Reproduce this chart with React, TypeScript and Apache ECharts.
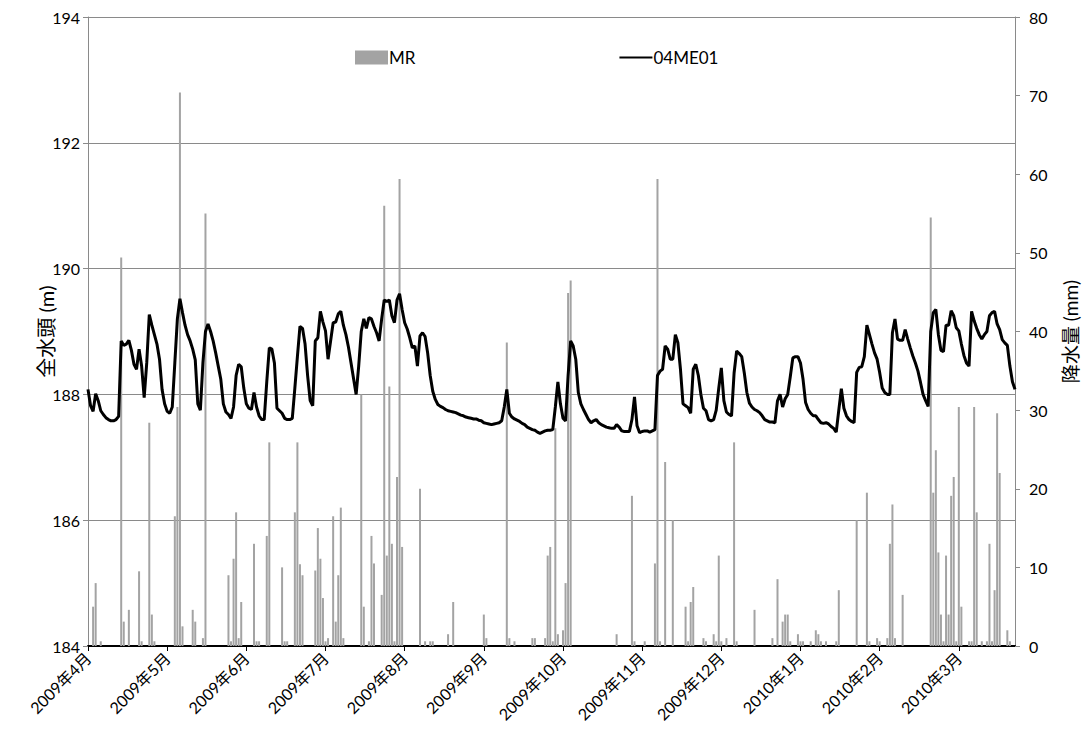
import React, { useEffect, useRef } from "react";
import * as echarts from "echarts";

// Daily record starting 2009-04-01
const startDate = [2009, 3, 1];
const dayCount = 364;
// month labels sit on every 31st daily category
const tickStep = 31;
const monthLabels = [
  "2009年4月", "2009年5月", "2009年6月", "2009年7月", "2009年8月", "2009年9月",
  "2009年10月", "2009年11月", "2009年12月", "2010年1月", "2010年2月", "2010年3月",
];

// 04ME01 total head (m), one value per day
const headValues = [
  188.08, 187.82, 187.73, 188.01, 187.9, 187.74, 187.68, 187.63, 187.6, 187.58,
  187.58, 187.6, 187.65, 188.85, 188.78, 188.8, 188.86, 188.7, 188.48, 188.4,
  188.72, 188.45, 187.95, 188.5, 189.27, 189.1, 188.95, 188.8, 188.56, 188.08,
  187.85, 187.73, 187.7, 187.8, 188.5, 189.2, 189.52, 189.3, 189.1, 188.95,
  188.85, 188.72, 188.55, 187.85, 187.75, 188.5, 189.0, 189.12, 189.0, 188.85,
  188.66, 188.45, 188.24, 187.85, 187.72, 187.68, 187.62, 187.8, 188.3, 188.48,
  188.44, 188.1, 187.85, 187.78, 187.76, 188.03, 187.8, 187.66, 187.6, 187.6,
  188.2, 188.74, 188.72, 188.5, 187.78, 187.74, 187.7, 187.62, 187.6, 187.6,
  187.62, 188.1, 188.6, 189.08, 189.05, 188.8, 188.3, 187.9, 187.82, 188.85,
  188.9, 189.32, 189.15, 189.01, 188.56, 188.85, 189.14, 189.15, 189.28, 189.32,
  189.1, 188.95, 188.75, 188.5, 188.25, 188.0, 188.45, 189.0, 189.2, 189.05,
  189.22, 189.2, 189.08, 188.98, 188.85, 189.2, 189.5, 189.48, 189.5, 189.25,
  189.14, 189.5, 189.6, 189.35, 189.14, 189.04, 188.9, 188.74, 188.77, 188.45,
  188.93, 188.98, 188.92, 188.66, 188.3, 188.05, 187.92, 187.84, 187.81, 187.79,
  187.76, 187.74, 187.73, 187.72, 187.71, 187.69, 187.67, 187.66, 187.64, 187.63,
  187.62, 187.61, 187.61, 187.59, 187.58, 187.55, 187.54, 187.53, 187.52, 187.53,
  187.54, 187.55, 187.58, 187.8, 188.08, 187.7, 187.64, 187.61, 187.59, 187.57,
  187.54, 187.52, 187.48, 187.46, 187.44, 187.43, 187.4, 187.38, 187.4, 187.42,
  187.43, 187.43, 187.44, 187.8, 188.2, 187.85, 187.62, 187.58, 188.3, 188.85,
  188.77, 188.56, 188.03, 187.85, 187.76, 187.68, 187.6, 187.55, 187.58, 187.6,
  187.55, 187.52, 187.5, 187.48, 187.47, 187.46, 187.46, 187.52, 187.48, 187.42,
  187.41, 187.41, 187.41, 187.6, 187.96, 187.5, 187.39, 187.41, 187.42, 187.42,
  187.4, 187.42, 187.44, 188.3, 188.37, 188.4, 188.77, 188.72, 188.56, 188.56,
  188.95, 188.82, 188.4, 187.85, 187.82, 187.79, 187.7, 188.4, 188.48, 188.3,
  188.0, 187.78, 187.74, 187.6, 187.58, 187.6, 187.75, 188.1, 188.42, 187.9,
  187.72, 187.68, 187.66, 188.34, 188.69, 188.65, 188.6, 188.34, 188.03, 187.86,
  187.8, 187.76, 187.74, 187.71, 187.66, 187.6, 187.58, 187.56, 187.56, 187.55,
  187.9, 188.0, 187.8, 187.93, 188.0, 188.28, 188.58, 188.6, 188.6, 188.5,
  188.24, 187.87, 187.76, 187.7, 187.66, 187.66, 187.6, 187.55, 187.54, 187.55,
  187.53, 187.49, 187.46, 187.4, 187.75, 188.09, 187.78, 187.66, 187.6, 187.57,
  187.55, 188.35, 188.43, 188.44, 188.6, 189.1, 188.95, 188.8, 188.66, 188.56,
  188.35, 188.1, 188.03, 188.0, 188.0, 188.98, 189.2, 188.88, 188.86, 188.86,
  189.03, 188.88, 188.74, 188.61, 188.5, 188.37, 188.19, 188.0, 187.9, 187.81,
  189.0, 189.3, 189.35, 188.95, 188.7, 188.68, 189.1, 189.1, 189.33, 189.25,
  189.06, 189.01, 188.8, 188.62, 188.5, 188.45, 189.32, 189.17, 189.05, 188.95,
  188.88, 188.95, 189.0, 189.25, 189.3, 189.32, 189.12, 189.03, 188.87, 188.82,
  188.78, 188.45, 188.2, 188.08,
];

// MR rainfall (mm): day offset from the start date and daily amount
const rainDays = [
  2, 3, 5, 13, 14, 16, 20, 21, 24, 25, 26, 34, 35, 36, 37, 41, 42, 45, 46,
  55, 56, 57, 58, 59, 60, 65, 66, 67, 70, 71, 76, 77, 78, 81, 82, 83, 84,
  89, 90, 91, 92, 93, 94, 96, 97, 98, 99, 100, 107, 108, 110, 111, 112,
  115, 116, 117, 118, 119, 120, 121, 122, 123, 130, 132, 134, 135, 141, 143,
  155, 156, 164, 165, 167, 174, 175, 179, 180, 181, 182, 183, 184, 186, 187,
  188, 189, 207, 213, 214, 218, 222, 223, 224, 226, 229, 234, 235, 236, 237,
  241, 242, 245, 246, 247, 248, 250, 253, 254, 261, 268, 270, 272, 273, 274,
  275, 278, 279, 280, 283, 285, 286, 287, 289, 293, 294, 301, 305, 306, 309,
  310, 313, 314, 315, 316, 319, 330, 331, 332, 333, 334, 335, 336, 337, 338,
  339, 340, 341, 342, 345, 346, 347, 348, 350, 352, 353, 354, 355, 356, 357,
  360, 361,
];
const rainValues = [
  5.0, 8.0, 0.6, 49.4, 3.1, 4.6, 9.5, 0.6, 28.4, 4.0, 0.6, 16.5, 30.4, 70.4, 2.5, 4.6, 3.1, 1.0, 55.0,
  9.0, 0.6, 11.1, 17.0, 1.0, 5.6, 13.0, 0.6, 0.6, 14.0, 25.9, 10.0, 0.6, 0.6, 17.0, 25.9, 10.4, 9.0,
  9.6, 15.0, 11.1, 6.1, 0.6, 1.0, 16.5, 3.1, 9.0, 17.6, 1.0, 32.0, 5.0, 0.6, 14.0, 10.5,
  6.5, 56.0, 11.5, 33.0, 13.0, 0.6, 21.5, 59.4, 12.6, 20.0, 0.6, 0.6, 0.6, 1.5, 5.6,
  4.0, 1.0, 38.6, 1.0, 0.6, 1.0, 1.0, 1.0, 11.5, 12.6, 0.6, 27.7, 1.5, 2.0, 8.0,
  44.9, 46.5, 1.5, 19.1, 0.6, 0.6, 10.5, 59.4, 0.6, 23.4, 16.0, 5.0, 0.6, 5.6, 7.5,
  1.0, 0.6, 1.5, 0.6, 11.5, 0.6, 1.0, 25.9, 0.6, 4.6, 1.0, 8.5, 3.1, 4.0, 4.0,
  0.6, 1.5, 0.6, 0.6, 0.6, 2.0, 1.5, 0.6, 0.6, 0.6, 7.1, 16.0, 19.5, 0.6, 1.0,
  0.6, 1.0, 13.0, 18.0, 1.0, 6.5, 54.5, 19.5, 24.9, 11.9, 4.0, 0.6, 11.5, 4.0, 19.1,
  21.5, 0.6, 30.4, 5.0, 0.6, 0.6, 30.4, 17.0, 0.6, 0.6, 13.0, 0.6, 7.1, 29.6, 22.0,
  2.0, 0.6,
];

const headTicks = { min: 184, max: 194, interval: 2 };
const rainTicks = { min: 0, max: 80, interval: 10 };

const FONT = "Lato, 'Noto Sans CJK JP', sans-serif";
const GRID_GRAY = "#8a8a8a";

export default function App() {
  const ref = useRef<HTMLDivElement>(null);

  useEffect(() => {
    if (!ref.current) return;
    const chart = echarts.init(ref.current, null, { renderer: "svg" });

    const categories: string[] = [];
    for (let i = 0; i < dayCount; i++) {
      const d = new Date(startDate[0], startDate[1], startDate[2] + i);
      categories.push(`${d.getFullYear()}/${d.getMonth() + 1}/${d.getDate()}`);
    }
    const rain: (number | string)[] = new Array(dayCount).fill("-");
    rainDays.forEach((day, k) => {
      rain[day] = rainValues[k];
    });
    const isMonthTick = (index: number) => index % tickStep === 0;

    chart.setOption({
      animation: false,
      textStyle: { fontFamily: FONT },
      grid: {
        left: 88,
        right: 68,
        top: 17,
        bottom: 87,
        containLabel: false,
        outerBoundsMode: "none",
      },
      legend: {
        left: 350,
        top: 44,
        itemWidth: 33,
        itemHeight: 14,
        itemGap: 203,
        textStyle: { fontSize: 17, color: "#000", fontFamily: FONT, padding: [0, 0, 0, -4] },
        data: [
          { name: "MR", icon: "rect" },
          // plain line key: the marker in the middle is hidden
          { name: "04ME01", itemStyle: { opacity: 0 } },
        ],
      },
      xAxis: {
        type: "category",
        data: categories,
        boundaryGap: false,
        axisLine: { lineStyle: { color: "#000", width: 2 } },
        axisTick: { interval: (i: number) => isMonthTick(i), length: 5, lineStyle: { color: "#000" } },
        axisLabel: {
          interval: (i: number) => isMonthTick(i),
          rotate: 45,
          margin: 9,
          fontSize: 16,
          color: "#000",
          fontFamily: FONT,
          formatter: (_v: string, i: number) => monthLabels[i / tickStep] ?? "",
        },
        splitLine: { show: false },
      },
      yAxis: [
        {
          type: "value",
          ...headTicks,
          position: "left",
          name: "全水頭 (m)",
          nameLocation: "middle",
          nameGap: 32,
          nameRotate: 90,
          nameMoveOverlap: false,
          nameTextStyle: { fontSize: 20, color: "#000", fontFamily: FONT },
          axisLine: { show: true, lineStyle: { color: GRID_GRAY } },
          axisTick: { show: true, inside: false, length: 5, lineStyle: { color: GRID_GRAY } },
          axisLabel: { fontSize: 16, color: "#000", margin: 8, fontFamily: FONT },
          splitLine: { show: true, lineStyle: { color: GRID_GRAY, width: 1 } },
        },
        {
          type: "value",
          ...rainTicks,
          position: "right",
          name: "降水量 (mm)",
          nameLocation: "middle",
          nameGap: 46,
          nameRotate: 90,
          nameMoveOverlap: false,
          nameTextStyle: { fontSize: 19, color: "#000", fontFamily: FONT },
          axisLine: { show: true, lineStyle: { color: GRID_GRAY } },
          axisTick: { show: true, inside: false, length: 5, lineStyle: { color: GRID_GRAY } },
          axisLabel: { fontSize: 16, color: "#000", margin: 14, fontFamily: FONT },
          splitLine: { show: false },
        },
      ],
      series: [
        {
          name: "MR",
          type: "bar",
          yAxisIndex: 1,
          data: rain,
          barWidth: 2,
          itemStyle: { color: "#a3a3a3" },
        },
        {
          name: "04ME01",
          type: "line",
          yAxisIndex: 0,
          data: headValues,
          symbol: "none",
          lineStyle: { color: "#000", width: 3 },
          itemStyle: { color: "#000" },
          z: 5,
        },
      ],
    });

    return () => chart.dispose();
  }, []);

  return (
    <div
      ref={ref}
      style={{ position: "fixed", left: 0, top: 0, width: 1083, height: 733, background: "#fff" }}
    />
  );
}
